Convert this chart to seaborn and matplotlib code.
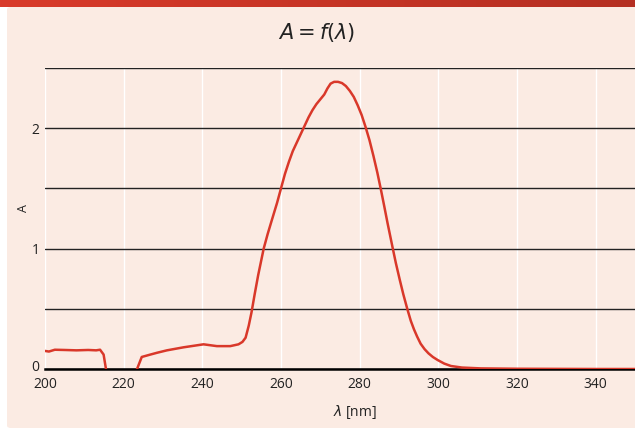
import numpy as np
import pandas as pd
import matplotlib
matplotlib.use("Agg")
import matplotlib.pyplot as plt
from matplotlib.patches import FancyBboxPatch
from matplotlib.transforms import ScaledTranslation
import seaborn as sns

# absorption spectrum
wavelength = [200, 201, 202.5, 205, 208, 211, 213, 214, 214.9, 215.5, 216.5,
              221.5, 223.4, 224.6, 226.8, 228.5, 231, 235.2, 240.3, 243.7,
              247.1, 249.2, 250.2, 251, 251.8, 252.5, 253.3, 254.2, 255.6,
              256.6, 257.7, 259, 260, 261, 262, 263, 264, 265, 266, 267, 268,
              269, 270, 271, 271.8, 272.6, 273.5, 274.5, 275.5, 276.5, 277.5,
              278.5, 279.5, 280.5, 281.5, 282.5, 283.5, 284.5, 285.4, 286.2,
              287.1, 288.3, 289.2, 290.2, 291.1, 292.1, 293, 293.8, 294.6,
              295.5, 296.5, 297.5, 298.6, 299.8, 301.5, 303.2, 306, 310.8,
              320, 330, 340, 350]
absorbance = [0.15, 0.145, 0.16, 0.158, 0.155, 0.158, 0.155, 0.16, 0.12, 0.0, -0.3,
              -0.3, 0.0, 0.10, 0.12, 0.135, 0.155, 0.18, 0.205, 0.19,
              0.19, 0.205, 0.225, 0.26, 0.36, 0.47, 0.62, 0.78, 1.0,
              1.12, 1.24, 1.38, 1.5, 1.62, 1.72, 1.81, 1.88, 1.95, 2.02, 2.09, 2.15,
              2.2, 2.24, 2.28, 2.33, 2.37, 2.385, 2.385, 2.375, 2.35, 2.31,
              2.26, 2.19, 2.11, 2.01, 1.90, 1.77, 1.63, 1.49, 1.36,
              1.21, 1.02, 0.88, 0.74, 0.62, 0.50, 0.40, 0.33, 0.27,
              0.21, 0.165, 0.13, 0.10, 0.075, 0.045, 0.025, 0.012, 0.005,
              0.002, 0.001, 0.0, 0.0]

x_ticks = [200, 220, 240, 260, 280, 300, 320, 340]
y_major = [0, 1, 2]
y_minor = [0.5, 1.5, 2.5]

bg = "#fbebe3"
red = "#d9382a"

sns.set_theme(style="white")
plt.rcParams["font.family"] = ["Open Sans", "DejaVu Sans"]

fig = plt.figure(figsize=(6.35, 4.3), dpi=100)
fig.patch.set_facecolor("white")

# pink panel and red header bar
panel = FancyBboxPatch((7 / 635, 2 / 430), 640 / 635, 421 / 430,
                       boxstyle="round,pad=0,rounding_size=0.006",
                       transform=fig.transFigure, facecolor=bg,
                       edgecolor="none", zorder=-10)
fig.patches.append(panel)
hdr = fig.add_axes([0, 1 - 7 / 430, 1, 7 / 430])
grad = np.linspace(0, 1, 256).reshape(1, -1)
hdr.imshow(grad, aspect="auto",
           cmap=matplotlib.colors.LinearSegmentedColormap.from_list("h", ["#d93a2a", "#b52f22"]))
hdr.axis("off")

ax = fig.add_axes([45 / 635, 1 - 369 / 430, 590 / 635, 301 / 430])
ax.set_facecolor(bg)
ax.set_zorder(5)

df = pd.DataFrame({"wl": wavelength, "A": absorbance})
sns.lineplot(data=df, x="wl", y="A", ax=ax, color=red, linewidth=1.8, zorder=5)

ax.set_xlim(200, 350)
ax.set_ylim(0, 2.5)
ax.set_xticks(x_ticks)
ax.set_xticklabels([str(t) for t in x_ticks])
ax.set_yticks(y_major)
ax.set_yticklabels([str(t) for t in y_major])
ax.set_yticks(y_minor, minor=True)

ax.xaxis.grid(True, color="white", linewidth=1.0)
ax.yaxis.grid(True, which="both", color="#222222", linewidth=1.0)
ax.set_axisbelow(True)
for s in ["top", "right", "left"]:
    ax.spines[s].set_visible(False)
ax.spines["bottom"].set_color("black")
ax.spines["bottom"].set_linewidth(1.8)
ax.spines["bottom"].set_zorder(4)

ax.tick_params(axis="both", which="both", length=0, labelsize=10, colors="#222222")
ax.tick_params(axis="x", pad=6)
ax.tick_params(axis="y", pad=4)

# lift the "0" a little so it sits clear of "200"
zero = ax.get_yticklabels()[0]
zero.set_transform(zero.get_transform() + ScaledTranslation(0, 2.5 / 72, fig.dpi_scale_trans))

ax.set_ylabel("A", fontsize=9, color="#222222")
ax.yaxis.set_label_coords(-0.026, 0.535)
ax.set_xlabel(r"$\lambda$ [nm]", fontsize=10, color="#222222")
ax.xaxis.set_label_coords(0.525, -0.113)

fig.text(317 / 635, 1 - 33 / 430, r"$A = f(\lambda)$", ha="center", va="center",
         fontsize=15, color="#222222")

fig.savefig("out.png", dpi=100, facecolor=fig.get_facecolor())
